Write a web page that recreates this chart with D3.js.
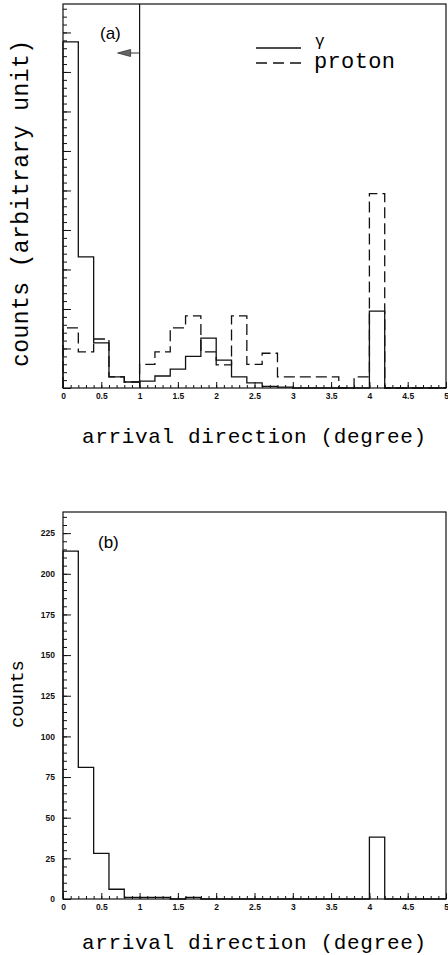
<!DOCTYPE html>
<html>
<head>
<meta charset="utf-8">
<script src="https://cdn.jsdelivr.net/npm/d3@7"></script>
<style>
  body { margin: 0; background: #fff; }
  .lab { font-family: "Liberation Sans", Arial, sans-serif; font-weight: bold; font-size: 8.5px; }
  .mono { font-family: "Liberation Mono", "Courier New", monospace; }
</style>
</head>
<body>
<div id="chart"></div>
<script>
// bin edges (degree), 0.2 wide
var edges = [0, 0.2, 0.4, 0.6, 0.8, 1.0, 1.2, 1.4, 1.6, 1.8, 2.0, 2.2, 2.4, 2.6, 2.8, 3.0,
             3.2, 3.4, 3.6, 3.8, 4.0, 4.2, 4.4, 4.6, 4.8, 5.0];

// panel (a), arbitrary units
var gammaA  = [219, 83, 28.5, 7, 3.8, 4.4, 7.6, 12, 20, 31.6, 17.7, 7, 3.2, 1, 0.5, 0,
               0, 0, 0, 0, 48.7, 0, 0, 0, 0];
var protonA = [38, 22.8, 31, 7, 3.8, 15, 22.8, 38, 45.6, 22.8, 14.6, 45.6, 15, 22, 7, 7,
               7, 7, 0, 7, 123, 0, 0, 0, 0];

// panel (b), counts
var countsB = [214, 81, 28, 6, 1, 1, 1, 0, 1, 0, 0, 0, 0, 0, 0, 0,
               0, 0, 0, 0, 38, 0, 0, 0, 0];

var xLabels = ["0", "0.5", "1", "1.5", "2", "2.5", "3", "3.5", "4", "4.5", "5"];
var xMajor = [0, 0.5, 1, 1.5, 2, 2.5, 3, 3.5, 4, 4.5, 5];
var yLabelsB = [0, 25, 50, 75, 100, 125, 150, 175, 200, 225];

var W = 448, H = 955;
var svg = d3.select("#chart").append("svg")
  .attr("width", W).attr("height", H);

function stepPoints(vals) {
  var pts = [[edges[0], 0]];
  vals.forEach(function(v, i) {
    pts.push([edges[i], v]);
    pts.push([edges[i + 1], v]);
  });
  pts.push([edges[edges.length - 1], 0]);
  return pts;
}

function panel(top, bottom, ymax, opts) {
  var x = d3.scaleLinear().domain([0, 5]).range([63, 446]);
  var y = d3.scaleLinear().domain([0, ymax]).range([bottom, top]);
  var g = svg.append("g");

  // frame
  g.append("rect")
    .attr("x", x(0)).attr("y", y(ymax))
    .attr("width", x(5) - x(0)).attr("height", y(0) - y(ymax))
    .attr("fill", "none").attr("stroke", "#111").attr("stroke-width", 1.2);

  // x ticks (inward)
  var minorX = d3.range(0, 5.001, 0.1);
  g.append("g").attr("transform", "translate(0," + bottom + ")")
    .call(d3.axisTop(x).tickValues(minorX).tickSize(3).tickFormat(""))
    .call(function(s) { s.select(".domain").remove(); });
  g.append("g").attr("transform", "translate(0," + bottom + ")")
    .call(d3.axisTop(x).tickValues(xMajor).tickSize(6).tickFormat(""))
    .call(function(s) { s.select(".domain").remove(); });
  g.append("g").attr("transform", "translate(0," + bottom + ")")
    .call(d3.axisBottom(x).tickValues(xMajor).tickSize(0).tickPadding(5)
      .tickFormat(function(d, i) { return xLabels[i]; }))
    .call(function(s) {
      s.select(".domain").remove();
      s.selectAll("text").attr("class", "lab").attr("fill", "#111");
    });

  // y ticks (inward)
  g.append("g").attr("transform", "translate(" + x(0) + ",0)")
    .call(d3.axisRight(y).tickValues(d3.range(0, ymax, 5)).tickSize(4).tickFormat(""))
    .call(function(s) { s.select(".domain").remove(); });
  g.append("g").attr("transform", "translate(" + x(0) + ",0)")
    .call(d3.axisRight(y).tickValues(d3.range(0, ymax, 25)).tickSize(8).tickFormat(""))
    .call(function(s) { s.select(".domain").remove(); });
  if (opts.yLabels) {
    g.append("g").attr("transform", "translate(" + (x(0) - 4) + ",0)")
      .call(d3.axisLeft(y).tickValues(yLabelsB).tickSize(0).tickPadding(4))
      .call(function(s) {
        s.select(".domain").remove();
        s.selectAll("text").attr("class", "lab").attr("fill", "#111");
      });
  }
  g.selectAll(".tick line").attr("stroke", "#111");

  var line = d3.line().x(function(d) { return x(d[0]); }).y(function(d) { return y(d[1]); });
  return { g: g, x: x, y: y, line: line };
}

// ---------- panel (a)
var a = panel(4, 388, 243, {});
a.g.append("path").datum(stepPoints(protonA)).attr("d", a.line)
  .attr("fill", "none").attr("stroke", "#111").attr("stroke-width", 1.3)
  .attr("stroke-dasharray", "11,5");
a.g.append("path").datum(stepPoints(gammaA)).attr("d", a.line)
  .attr("fill", "none").attr("stroke", "#111").attr("stroke-width", 1.3);

// cut line at 1 degree with arrow
a.g.append("line").attr("x1", a.x(1)).attr("x2", a.x(1)).attr("y1", 4).attr("y2", 388)
  .attr("stroke", "#111").attr("stroke-width", 1.2);
a.g.append("line").attr("x1", a.x(1)).attr("x2", a.x(1) - 12).attr("y1", 53).attr("y2", 53)
  .attr("stroke", "#333").attr("stroke-width", 1);
a.g.append("path")
  .attr("d", "M" + (a.x(1) - 22) + ",53 L" + (a.x(1) - 9) + ",49.5 L" + (a.x(1) - 9) + ",56.5 Z")
  .attr("fill", "#666").attr("stroke", "#333").attr("stroke-width", 0.8);

a.g.append("text").attr("x", 100).attr("y", 39)
  .attr("font-family", "Liberation Sans, Arial, sans-serif").attr("font-size", 17)
  .text("(a)");

// legend
a.g.append("line").attr("x1", 256).attr("x2", 301).attr("y1", 48).attr("y2", 48)
  .attr("stroke", "#111").attr("stroke-width", 1.3);
a.g.append("line").attr("x1", 256).attr("x2", 301).attr("y1", 63).attr("y2", 63)
  .attr("stroke", "#111").attr("stroke-width", 1.3).attr("stroke-dasharray", "11,6");
a.g.append("text").attr("class", "mono").attr("x", 315).attr("y", 46)
  .attr("font-size", 16).text("γ");
a.g.append("text").attr("class", "mono").attr("x", 314).attr("y", 68)
  .attr("font-size", 22).attr("textLength", 81).text("proton");

svg.append("text").attr("class", "mono")
  .attr("x", 82).attr("y", 443).attr("font-size", 21).attr("textLength", 344)
  .text("arrival direction (degree)");
svg.append("text").attr("class", "mono")
  .attr("transform", "translate(28,367) rotate(-90)")
  .attr("font-size", 23).attr("textLength", 327)
  .text("counts (arbitrary unit)");

// ---------- panel (b)
var b = panel(512, 899, 238, { yLabels: true });
b.g.append("path").datum(stepPoints(countsB)).attr("d", b.line)
  .attr("fill", "none").attr("stroke", "#111").attr("stroke-width", 1.3);

b.g.append("text").attr("x", 98).attr("y", 548)
  .attr("font-family", "Liberation Sans, Arial, sans-serif").attr("font-size", 17)
  .text("(b)");

svg.append("text").attr("class", "mono")
  .attr("x", 82).attr("y", 949).attr("font-size", 21).attr("textLength", 344)
  .text("arrival direction (degree)");
svg.append("text").attr("class", "mono")
  .attr("transform", "translate(23,728) rotate(-90)")
  .attr("font-size", 19).attr("textLength", 68)
  .text("counts");
</script>
</body>
</html>
